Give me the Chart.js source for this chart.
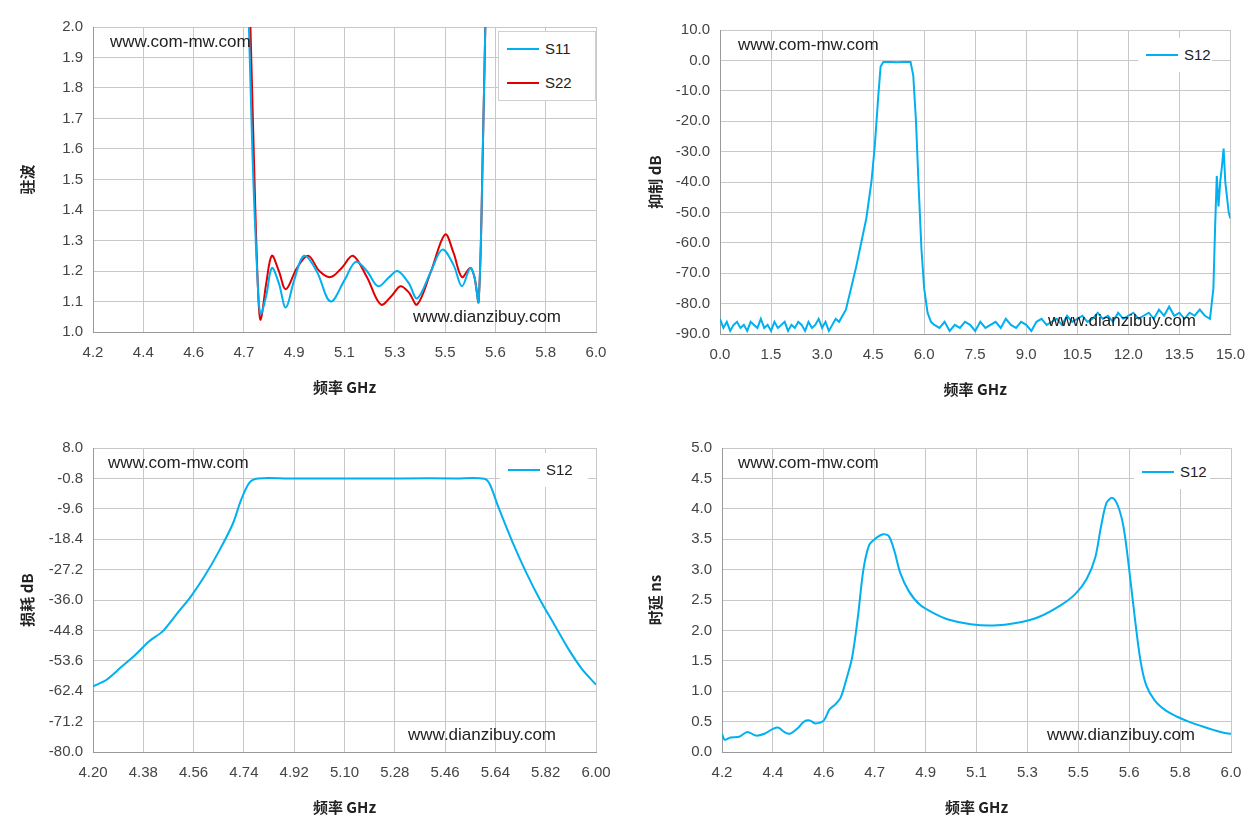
<!DOCTYPE html>
<html><head><meta charset="utf-8">
<script src="https://cdn.jsdelivr.net/npm/chart.js@4"></script>
<style>
body{margin:0;background:#fff;width:1257px;height:837px;position:relative;overflow:hidden;font-family:"Liberation Sans",Arial,sans-serif}
.p{position:absolute}
.wm{position:absolute;font-size:17px;color:#222}
.lg{position:absolute;background:#fff;border:1px solid #d0d0d0;font-size:15px;color:#222}
.lg div{height:34px;line-height:34px;position:relative;padding-left:46px}
.lg span{position:absolute;left:8px;top:16px;width:32px;height:2px}
</style></head><body>
<div class="p" style="left:0;top:0;width:628px;height:418px"><canvas id="c1"></canvas></div>
<div class="p" style="left:628px;top:0;width:629px;height:418px"><canvas id="c2"></canvas></div>
<div class="p" style="left:0;top:418px;width:628px;height:419px"><canvas id="c3"></canvas></div>
<div class="p" style="left:628px;top:418px;width:629px;height:419px"><canvas id="c4"></canvas></div>

<div class="wm" style="left:110px;top:32px">www.com-mw.com</div>
<div class="wm" style="left:413px;top:307px">www.dianzibuy.com</div>
<div class="wm" style="left:738px;top:35px">www.com-mw.com</div>
<div class="wm" style="left:1048px;top:311px">www.dianzibuy.com</div>
<div class="wm" style="left:108px;top:453px">www.com-mw.com</div>
<div class="wm" style="left:408px;top:725px">www.dianzibuy.com</div>
<div class="wm" style="left:738px;top:453px">www.com-mw.com</div>
<div class="wm" style="left:1047px;top:725px">www.dianzibuy.com</div>

<div class="lg" style="left:498px;top:31px;width:96px"><div><span style="background:#00B0F0"></span>S11</div><div><span style="background:#E00000"></span>S22</div></div>
<div class="lg" style="left:1138px;top:38px;width:74px;border:none"><div><span style="background:#00B0F0"></span>S12</div></div>
<div class="lg" style="left:500px;top:453px;width:88px;border:none"><div><span style="background:#00B0F0"></span>S12</div></div>
<div class="lg" style="left:1134px;top:455px;width:76px;border:none"><div><span style="background:#00B0F0"></span>S12</div></div>

<script>
// ---- 驻波 S11 / S22 ----
const s11X = [4.75,4.77,4.79,4.80,4.82,4.84,4.865,4.89,4.92,4.955,5.00,5.05,5.10,5.14,5.18,5.22,5.26,5.29,5.33,5.36,5.41,5.45,5.49,5.52,5.55,5.565,5.58,5.595,5.61];
const s11Y = [2.3,1.60,1.15,1.06,1.12,1.21,1.16,1.08,1.17,1.25,1.20,1.10,1.17,1.23,1.20,1.15,1.18,1.20,1.16,1.11,1.20,1.27,1.22,1.15,1.21,1.18,1.10,1.60,2.3];
const s22X = [4.755,4.775,4.79,4.80,4.82,4.84,4.865,4.89,4.93,4.97,5.01,5.05,5.09,5.13,5.18,5.23,5.27,5.30,5.33,5.36,5.41,5.46,5.49,5.52,5.55,5.565,5.58,5.595,5.61];
const s22Y = [2.3,1.60,1.15,1.04,1.16,1.25,1.20,1.14,1.21,1.25,1.20,1.18,1.21,1.25,1.18,1.09,1.12,1.15,1.13,1.09,1.20,1.32,1.26,1.18,1.21,1.18,1.10,1.60,2.3];

// ---- 抑制 S12 宽带 ----
const wideX = [0,0.1,0.2,0.3,0.4,0.5,0.6,0.7,0.8,0.9,1.0,1.1,1.2,1.3,1.4,1.5,1.6,1.7,1.8,1.9,2.0,2.1,2.2,2.3,2.4,2.5,2.6,2.7,2.8,2.9,3.0,3.1,3.2,3.3,3.4,3.5,
  3.7,3.85,4.0,4.15,4.3,4.45,4.55,4.65,4.72,4.8,5.0,5.2,5.4,5.6,5.68,5.76,5.84,5.92,6.0,6.1,6.2,6.3,
  6.45,6.6,6.75,6.9,7.05,7.2,7.35,7.5,7.65,7.8,7.95,8.1,8.25,8.4,8.55,8.7,8.85,9.0,9.15,9.3,9.45,9.6,9.75,9.9,10.05,10.2,10.35,10.5,10.65,10.8,10.95,11.1,11.25,11.4,11.55,11.7,11.85,12.0,12.15,12.3,12.45,12.6,12.75,12.9,13.05,13.2,13.35,13.5,13.65,13.8,13.95,14.1,14.25,14.4,
  14.5,14.55,14.6,14.65,14.7,14.75,14.8,14.85,14.9,14.95,15.0];
const wideY = [-85,-88,-86,-89,-87,-86,-88,-87,-89,-86,-87,-88,-85,-88,-87,-89,-86,-88,-87,-86,-89,-87,-88,-86,-87,-89,-86,-88,-87,-85,-88,-86,-89,-87,-85,-86,
  -82,-75,-68,-60,-52,-40,-28,-12,-2,-0.5,-0.5,-0.6,-0.5,-0.5,-5,-20,-42,-62,-75,-83,-86,-87,
  -88,-86,-89,-87,-88,-86,-87,-89,-86,-88,-87,-86,-88,-85,-87,-88,-86,-87,-89,-86,-85,-87,-86,-85,-87,-84,-86,-85,-84,-86,-85,-83,-85,-84,-86,-83,-85,-84,-83,-85,-84,-83,-85,-82,-84,-81,-84,-83,-85,-83,-84,-82,-84,-85,
  -75,-55,-38,-48,-40,-35,-29,-40,-45,-50,-52];

// ---- 损耗 S12 ----
const lossX = [4.20,4.25,4.30,4.35,4.40,4.45,4.50,4.55,4.60,4.65,4.70,4.73,4.76,4.79,4.90,5.10,5.30,5.50,5.60,5.62,5.65,5.70,5.75,5.80,5.85,5.90,5.95,6.00];
const lossY = [-61,-59,-55.5,-52,-48,-45,-40,-35,-29,-22,-14,-7,-2,-0.8,-0.8,-0.8,-0.8,-0.8,-0.9,-2.5,-9,-19,-28,-36,-43,-50,-56,-60.5];

// ---- 时延 S12 ----
const delayX = [4.20,4.21,4.23,4.26,4.29,4.32,4.35,4.38,4.40,4.42,4.44,4.47,4.49,4.51,4.53,4.56,4.58,4.60,4.62,4.64,4.66,4.68,4.70,4.72,4.74,4.77,4.79,4.81,4.83,4.86,4.90,4.95,5.00,5.08,5.16,5.24,5.32,5.40,5.45,5.49,5.52,5.54,5.56,5.58,5.60,5.62,5.64,5.66,5.68,5.70,5.73,5.77,5.81,5.85,5.90,5.94,5.97,6.00];
const delayY = [0.30,0.20,0.24,0.25,0.33,0.27,0.30,0.38,0.40,0.33,0.30,0.40,0.50,0.52,0.47,0.52,0.70,0.78,0.90,1.20,1.55,2.20,3.00,3.40,3.50,3.58,3.55,3.30,2.95,2.65,2.42,2.28,2.18,2.10,2.08,2.12,2.22,2.42,2.60,2.85,3.20,3.70,4.10,4.18,4.05,3.70,3.00,2.20,1.50,1.10,0.85,0.68,0.58,0.50,0.42,0.36,0.32,0.30];

const FONT = "'Liberation Sans', Arial, sans-serif";
const TFONT = "'Noto Sans CJK SC', serif";
const GRID = '#c8c8c8';

function pts(xs, ys) { return xs.map((x, i) => ({ x: x, y: ys[i] })); }

function makeChart(id, cfg) {
    const ds = cfg.series.map(s => ({
        data: pts(s.x, s.y), borderColor: s.color, borderWidth: 2,
        pointRadius: 0, tension: cfg.tension, fill: false
    }));
    new Chart(document.getElementById(id), {
        type: 'line',
        data: { datasets: ds },
        options: {
            responsive: true, maintainAspectRatio: false, animation: false,
            layout: { padding: { top: cfg.pad[0], right: cfg.pad[1], left: 14, bottom: cfg.pad[2] - 68 } },
            plugins: { legend: { display: false }, tooltip: { enabled: false } },
            scales: {
                x: {
                    type: 'linear', min: cfg.xmin, max: cfg.xmax,
                    afterBuildTicks: a => { a.ticks = cfg.xt.map(v => ({ value: v })); },
                    afterFit: a => { a.height = 68; },
                    ticks: { color: '#444', font: { family: FONT, size: 15 }, maxRotation: 0, autoSkip: false, padding: 12,
                        callback: v => v.toFixed(cfg.xd) },
                    grid: { color: GRID, drawTicks: false }, border: { color: '#999' },
                    title: { display: true, text: '频率 GHz', color: '#222', padding: { top: 18 },
                        font: { family: TFONT, size: 15, weight: 'bold' } }
                },
                y: {
                    min: cfg.ymin, max: cfg.ymax,
                    afterBuildTicks: a => { a.ticks = cfg.yt.map(v => ({ value: v })); },
                    afterFit: a => { a.width = cfg.pad[3] - 14; },
                    ticks: { color: '#444', font: { family: FONT, size: 15 }, autoSkip: false, padding: 10,
                        callback: v => v.toFixed(1) },
                    grid: { color: GRID, drawTicks: false }, border: { color: '#999' },
                    title: { display: true, text: cfg.ytitle, color: '#222', padding: { bottom: 2 },
                        font: { family: TFONT, size: 15, weight: 'bold' } }
                }
            }
        }
    });
}

function steps(a, b, n) { const r = []; for (let i = 0; i <= n; i++) r.push(a + (b - a) * i / n); return r; }

makeChart('c1', {
    series: [{ x: s11X, y: s11Y, color: '#00B0F0' }, { x: s22X, y: s22Y, color: '#E00000' }],
    tension: 0.35, xmin: 4.2, xmax: 6.0, xt: steps(4.2, 6.0, 10), xd: 1,
    ymin: 1.0, ymax: 2.0, yt: steps(1.0, 2.0, 10), ytitle: '驻波', pad: [27, 32, 86, 93]
});
makeChart('c2', {
    series: [{ x: wideX, y: wideY, color: '#00B0F0' }],
    tension: 0, xmin: 0, xmax: 15, xt: steps(0, 15, 10), xd: 1,
    ymin: -90, ymax: 10, yt: steps(-90, 10, 10), ytitle: '抑制 dB', pad: [30, 26, 84, 92]
});
makeChart('c3', {
    series: [{ x: lossX, y: lossY, color: '#00B0F0' }],
    tension: 0.3, xmin: 4.2, xmax: 6.0, xt: steps(4.2, 6.0, 10), xd: 2,
    ymin: -80, ymax: 8, yt: steps(-80, 8, 10), ytitle: '损耗 dB', pad: [30, 32, 85, 93]
});
makeChart('c4', {
    series: [{ x: delayX, y: delayY, color: '#00B0F0' }],
    tension: 0.3, xmin: 4.2, xmax: 6.0, xt: steps(4.2, 6.0, 10), xd: 1,
    ymin: 0, ymax: 5, yt: steps(0, 5, 10), ytitle: '时延 ns', pad: [30, 26, 85, 94]
});
</script>
</body></html>
